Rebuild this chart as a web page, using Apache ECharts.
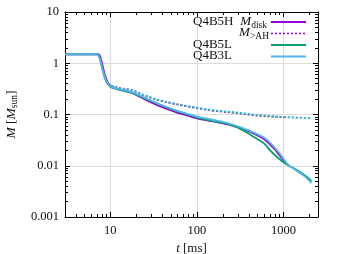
<!DOCTYPE html>
<html><head><meta charset="utf-8">
<script src="https://cdn.jsdelivr.net/npm/echarts@6/dist/echarts.min.js"></script>
<style>html,body{margin:0;padding:0;background:#fff}#c{width:338px;height:254px}</style>
</head><body><div id="c"></div>
<script>
// time [ms]
const time = [3,7,7.5,8,8.5,9,9.5,10,11,13,15,18,22,28,35,45,60,80,100,130,170,220,280,350,420,500,600,700,800,900,1000,1100,1200,1500,1800,2100];
// M_disk [Msun]
const q4b5hDisk = [1.5,1.5,1.45,1.0,0.65,0.48,0.4,0.365,0.335,0.305,0.288,0.262,0.222,0.18,0.152,0.128,0.108,0.094,0.084,0.077,0.071,0.065,0.058,0.051,0.045,0.039,0.033,0.026,0.0205,0.016,0.0128,0.0107,null,null,null,null];
const q4b5lDisk = [1.5,1.5,1.3,0.84,0.57,0.44,0.38,0.35,0.325,0.30,0.285,0.262,0.228,0.19,0.162,0.137,0.115,0.099,0.087,0.079,0.072,0.066,0.058,0.048,0.040,0.033,0.027,0.020,0.016,0.0135,0.0117,0.0105,0.0097,0.0078,0.0063,0.005];
const q4b3lDisk = [1.5,1.5,1.3,0.85,0.58,0.45,0.39,0.36,0.335,0.31,0.295,0.27,0.235,0.195,0.165,0.14,0.118,0.102,0.091,0.083,0.076,0.069,0.061,0.053,0.047,0.041,0.035,0.028,0.022,0.0175,0.0135,0.011,0.0097,0.0075,0.006,0.0046];
// M_>AH [Msun]
const q4b5hAH = [1.5,1.5,1.45,1.02,0.66,0.49,0.41,0.375,0.35,0.328,0.315,0.297,0.256,0.218,0.194,0.174,0.156,0.142,0.133,0.123,0.116,0.111,0.107,0.102,0.098,0.095,0.093,0.091,0.09,0.089,0.088,0.0875,null,null,null,null];
const q4b5lAH = [1.5,1.5,1.3,0.85,0.58,0.45,0.39,0.365,0.345,0.325,0.312,0.295,0.255,0.218,0.195,0.175,0.158,0.144,0.135,0.125,0.118,0.113,0.109,0.104,0.1,0.097,0.095,0.093,0.091,0.09,0.089,0.088,0.0875,0.0865,0.0858,0.0852];
const q4b3lAH = [1.5,1.5,1.3,0.86,0.59,0.46,0.40,0.37,0.35,0.33,0.318,0.30,0.26,0.222,0.198,0.178,0.16,0.146,0.137,0.127,0.12,0.115,0.111,0.106,0.102,0.099,0.097,0.095,0.093,0.091,0.09,0.089,0.0885,0.0875,0.0865,0.086];
// ticks
const xMajor = [10,100,1000];
const xMinor = [4,5,6,7,8,9,20,30,40,50,60,70,80,90,200,300,400,500,600,700,800,900,2000];
const yMajor = [0.001,0.01,0.1,1,10];
const yMinor = [0.002,0.003,0.004,0.005,0.006,0.007,0.008,0.009,0.02,0.03,0.04,0.05,0.06,0.07,0.08,0.09,0.2,0.3,0.4,0.5,0.6,0.7,0.8,0.9,2,3,4,5,6,7,8,9];
const yTickLabels = ['0.001','0.01','0.1','1','10'];
const xTickLabels = ['10','100','1000'];

const FONT = 'Liberation Serif';
const COL = {h:'#9400d3', l:'#009e73', b:'#56b4e9'};
const pairs = (ys) => time.map((t,i) => [t, ys[i]]);
const nearestLabel = (v, vals, labs) => {
  let best = 0;
  vals.forEach((x,i) => { if (Math.abs(Math.log10(x)-Math.log10(v)) < Math.abs(Math.log10(vals[best])-Math.log10(v))) best = i; });
  return labs[best];
};
const XMIN = 3, XMAX = 2500, YMIN = 0.001, YMAX = 10;

function xAxisDef(gridIndex, position, major, withLabels) {
  return {
    type: 'log', gridIndex, position, min: XMIN, max: XMAX,
    axisLine: {show: major, onZero: false, lineStyle: {color: '#000', width: 1}},
    axisTick: {show: true, inside: true, length: major ? 5 : 3, customValues: major ? xMajor : xMinor, lineStyle: {color: '#000'}},
    axisLabel: {show: withLabels, customValues: xMajor, margin: 7, color: '#111', fontFamily: FONT, fontSize: 12.5,
      formatter: v => nearestLabel(v, xMajor, xTickLabels)},
    splitLine: {show: withLabels, lineStyle: {color: '#dcdcdc', width: 1}},
    minorTick: {show: false}, minorSplitLine: {show: false},
    name: withLabels ? '{i|t} [ms]' : '', nameLocation: 'middle', nameGap: 25,
    nameTextStyle: {fontFamily: FONT, fontSize: 13, color: '#111', rich: {i: {fontFamily: FONT, fontSize: 13, fontStyle: 'italic', color: '#111'}}}
  };
}
function yAxisDef(gridIndex, position, major, withLabels) {
  return {
    type: 'log', gridIndex, position, min: YMIN, max: YMAX,
    axisLine: {show: major, onZero: false, lineStyle: {color: '#000', width: 1}},
    axisTick: {show: true, inside: true, length: major ? 5 : 3, customValues: major ? yMajor : yMinor, lineStyle: {color: '#000'}},
    axisLabel: {show: withLabels, customValues: yMajor, margin: 6, color: '#111', fontFamily: FONT, fontSize: 12.5,
      formatter: v => nearestLabel(v, yMajor, yTickLabels)},
    splitLine: {show: withLabels, lineStyle: {color: '#dcdcdc', width: 1}},
    minorTick: {show: false}, minorSplitLine: {show: false},
    name: withLabels ? '{i|M} [{i|M}{s|sun}]' : '', nameLocation: 'middle', nameGap: 44, nameRotate: 90,
    nameTextStyle: {fontFamily: FONT, fontSize: 13.5, color: '#111', lineHeight: 17,
      rich: {i: {fontFamily: FONT, fontSize: 13.5, fontStyle: 'italic', color: '#111', lineHeight: 17},
             s: {fontFamily: FONT, fontSize: 9.5, color: '#111', lineHeight: 9, verticalAlign: 'bottom'}}}
  };
}

const rich = {
  n: {fontFamily: FONT, fontSize: 13, color: '#111', lineHeight: 17},
  m: {fontFamily: FONT, fontSize: 13, fontStyle: 'italic', color: '#111', lineHeight: 17},
  s: {fontFamily: FONT, fontSize: 9.5, color: '#111', lineHeight: 9, verticalAlign: 'bottom'}
};
const keyText = (text, x, y, align) => ({
  type: 'text', x, y, silent: true, z: 100,
  style: {text, rich, align, verticalAlign: 'middle', fontFamily: FONT, fontSize: 13, fill: '#111'}
});
const keyLine = (y, color, dotted) => ({
  type: 'line', silent: true, z: 100,
  shape: {x1: 271, y1: y, x2: 306, y2: y},
  style: {stroke: color, lineWidth: dotted ? 1.6 : 1.8, lineDash: dotted ? [2, 2] : null}
});

const lineSeries = (name, ys, color, dotted, z) => ({
  name, type: 'line', data: pairs(ys), xAxisIndex: 0, yAxisIndex: 0,
  symbol: 'none', showSymbol: false, smooth: 0.3, connectNulls: false, z,
  lineStyle: {color, width: dotted ? 1.6 : 1.8, type: dotted ? [2, 2] : 'solid'},
  itemStyle: {color}
});

const option = {
  backgroundColor: '#fff',
  animation: false,
  grid: [
    {left: 65, right: 20, top: 12, bottom: 37, containLabel: false, outerBoundsMode: 'none'},
    {left: 65, right: 20, top: 12, bottom: 37, containLabel: false, outerBoundsMode: 'none'}
  ],
  xAxis: [
    xAxisDef(0, 'bottom', true, true),
    xAxisDef(0, 'top', true, false),
    xAxisDef(1, 'bottom', false, false),
    xAxisDef(1, 'top', false, false)
  ],
  yAxis: [
    yAxisDef(0, 'left', true, true),
    yAxisDef(0, 'right', true, false),
    yAxisDef(1, 'left', false, false),
    yAxisDef(1, 'right', false, false)
  ],
  graphic: [
    keyText('{n|Q4B5H}', 193, 21.5, 'left'),
    keyText('{m|M}{s|disk}', 267, 21.5, 'right'),
    keyLine(22, COL.h, false),
    keyText('{m|M}{s|>AH}', 269, 32.5, 'right'),
    keyLine(33.5, COL.h, true),
    keyText('{n|Q4B5L}', 193, 44.5, 'left'),
    keyLine(45, COL.l, false),
    keyText('{n|Q4B3L}', 193, 56, 'left'),
    keyLine(56.5, COL.b, false)
  ],
  series: [
    lineSeries('Q4B5H M>AH', q4b5hAH, COL.h, true, 2),
    lineSeries('Q4B5L M>AH', q4b5lAH, COL.l, true, 3),
    lineSeries('Q4B3L M>AH', q4b3lAH, COL.b, true, 4),
    lineSeries('Q4B5H Mdisk', q4b5hDisk, COL.h, false, 5),
    lineSeries('Q4B5L Mdisk', q4b5lDisk, COL.l, false, 6),
    lineSeries('Q4B3L Mdisk', q4b3lDisk, COL.b, false, 7)
  ]
};
const chart = echarts.init(document.getElementById('c'), null, {renderer: 'canvas'});
chart.setOption(option);
</script>
</body></html>
